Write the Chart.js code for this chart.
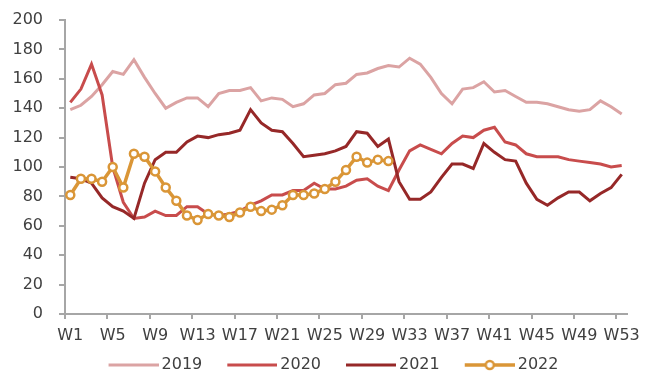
<!DOCTYPE html>
<html>
<head>
<meta charset="utf-8">
<script src="https://cdn.jsdelivr.net/npm/chart.js@4/dist/chart.umd.min.js"></script>
<style>
  body { margin: 0; background: #fff; }
  #box { width: 645px; height: 376px; }
</style>
</head>
<body>
<div id="box"><canvas id="weekly"></canvas></div>
<script>
const weeks = ['W1', 'W2', 'W3', 'W4', 'W5', 'W6', 'W7', 'W8', 'W9', 'W10',
  'W11', 'W12', 'W13', 'W14', 'W15', 'W16', 'W17', 'W18', 'W19', 'W20',
  'W21', 'W22', 'W23', 'W24', 'W25', 'W26', 'W27', 'W28', 'W29', 'W30',
  'W31', 'W32', 'W33', 'W34', 'W35', 'W36', 'W37', 'W38', 'W39', 'W40',
  'W41', 'W42', 'W43', 'W44', 'W45', 'W46', 'W47', 'W48', 'W49', 'W50',
  'W51', 'W52', 'W53'];

const y2019 = [139, 142, 148, 156, 165, 163, 173, 161, 150, 140, 144, 147, 147, 141, 150, 152, 152, 154, 145, 147,
  146, 141, 143, 149, 150, 156, 157, 163, 164, 167, 169, 168, 174, 170, 161, 150, 143, 153, 154, 158,
  151, 152, 148, 144, 144, 143, 141, 139, 138, 139, 145, 141, 136];
const y2020 = [144, 153, 170, 149, 100, 76, 65, 66, 70, 67, 67, 73, 73, 68, 67, 68, 70, 74, 77, 81,
  81, 84, 84, 89, 85, 85, 87, 91, 92, 87, 84, 98, 111, 115, 112, 109, 116, 121, 120, 125,
  127, 117, 115, 109, 107, 107, 107, 105, 104, 103, 102, 100, 101];
const y2021 = [93, 92, 89, 79, 73, 70, 65, 89, 105, 110, 110, 117, 121, 120, 122, 123, 125, 139, 130, 125,
  124, 116, 107, 108, 109, 111, 114, 124, 123, 114, 119, 90, 78, 78, 83, 93, 102, 102, 99, 116,
  110, 105, 104, 89, 78, 74, 79, 83, 83, 77, 82, 86, 95];
const y2022 = [81, 92, 92, 90, 100, 86, 109, 107, 97, 86, 77, 67, 64, 68, 67, 66, 69, 73, 70, 71,
  74, 81, 81, 82, 85, 90, 98, 107, 103, 105, 104];

const yTicks = [0, 20, 40, 60, 80, 100, 120, 140, 160, 180, 200];

const colors = ['#dba3a3', '#c84c4c', '#962828', '#da9637'];
const axisColor = '#a6a6a6';
const textColor = '#404040';

// line samples for the legend, the 2022 one with its ring marker
function legendMark(color, dot) {
  const c = document.createElement('canvas');
  c.width = 65;
  c.height = 14;
  const g = c.getContext('2d');
  g.strokeStyle = color;
  g.lineWidth = dot ? 3.5 : 3;
  g.beginPath();
  g.moveTo(15, 7);
  g.lineTo(65, 7);
  g.stroke();
  if (dot) {
    g.beginPath();
    g.arc(40, 7, 4, 0, Math.PI * 2);
    g.fillStyle = '#fff';
    g.fill();
    g.lineWidth = 2.5;
    g.stroke();
  }
  return c;
}
const marks = colors.map((c, i) => legendMark(c, i === 3));

// keep the legend row roughly centred under the plot rather than the whole canvas
const legendShift = {
  id: 'legendShift',
  afterLayout(chart) {
    chart.legend.left += 30;
  }
};

Chart.defaults.font.family = "'DejaVu Sans', sans-serif";
Chart.defaults.font.size = 16;
Chart.defaults.color = textColor;

const ctx = document.getElementById('weekly');

new Chart(ctx, {
  type: 'line',
  data: {
    labels: weeks,
    datasets: [
      { label: '2019', data: y2019, borderColor: colors[0], borderWidth: 3, pointRadius: 0, order: 4 },
      { label: '2020', data: y2020, borderColor: colors[1], borderWidth: 3, pointRadius: 0, order: 3 },
      { label: '2021', data: y2021, borderColor: colors[2], borderWidth: 3, pointRadius: 0, order: 2 },
      {
        label: '2022', data: y2022, borderColor: colors[3], borderWidth: 3.5,
        pointRadius: 4, pointBorderWidth: 2.5, pointBackgroundColor: '#fff',
        pointBorderColor: colors[3], order: 1
      }
    ]
  },
  plugins: [legendShift],
  options: {
    responsive: true,
    maintainAspectRatio: false,
    animation: false,
    layout: { padding: { top: 20, left: 0, right: 18, bottom: 0 } },
    elements: { line: { tension: 0 } },
    plugins: {
      tooltip: { enabled: false },
      legend: {
        position: 'bottom',
        maxHeight: 34,
        labels: {
          usePointStyle: true,
          pointStyleWidth: 55,
          boxWidth: 55,
          padding: 15,
          color: textColor,
          generateLabels(chart) {
            const items = Chart.defaults.plugins.legend.labels.generateLabels(chart);
            items.sort((a, b) => a.datasetIndex - b.datasetIndex);
            items.forEach(it => { it.pointStyle = marks[it.datasetIndex]; });
            return items;
          }
        }
      }
    },
    scales: {
      x: {
        offset: true,
        afterFit(scale) {
          scale.height = 28;
          scale.paddingLeft = 0;
          scale.paddingRight = 0;
        },
        border: { color: axisColor, width: 2 },
        grid: {
          offset: true,
          drawOnChartArea: false,
          tickLength: 5,
          lineWidth: 2,
          color: c => (c.index % 4 === 0 ? axisColor : 'transparent')
        },
        ticks: {
          autoSkip: false,
          maxRotation: 0,
          padding: 7,
          color: textColor,
          callback: (v, i) => (i % 4 === 0 ? weeks[i] : '')
        }
      },
      y: {
        min: yTicks[0],
        max: yTicks[yTicks.length - 1],
        afterFit(scale) {
          scale.width = 65;
          scale.paddingTop = 10;
          scale.paddingBottom = 10;
        },
        border: { color: axisColor, width: 2 },
        grid: { drawOnChartArea: false, tickLength: 6, lineWidth: 2, color: axisColor },
        ticks: { stepSize: 20, padding: 16, color: textColor }
      }
    }
  }
});
</script>
</body>
</html>
